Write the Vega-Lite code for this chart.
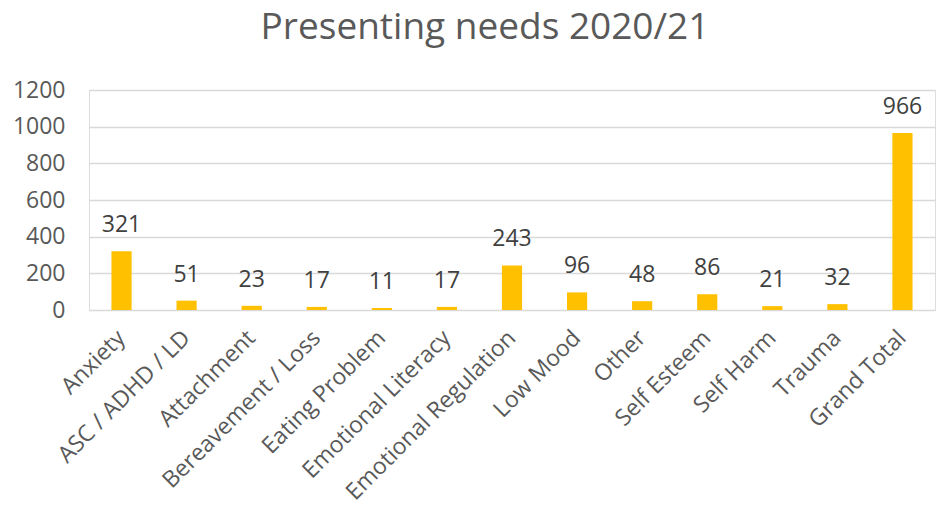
{
  "$schema": "https://vega.github.io/schema/vega-lite/v6.json",
  "autosize": "none",
  "width": 846,
  "height": 220,
  "padding": {"left": 89, "top": 90, "right": 2, "bottom": 198},
  "background": "white",
  "title": {
    "text": "Presenting needs 2020/21",
    "font": "Open Sans",
    "fontSize": 37,
    "fontWeight": "normal",
    "color": "#595959",
    "anchor": "middle",
    "dx": -27,
    "offset": 32
  },
  "data": {
    "values": [
      {"need": "Anxiety", "count": 321},
      {"need": "ASC / ADHD / LD", "count": 51},
      {"need": "Attachment", "count": 23},
      {"need": "Bereavement / Loss", "count": 17},
      {"need": "Eating Problem", "count": 11},
      {"need": "Emotional Literacy", "count": 17},
      {"need": "Emotional Regulation", "count": 243},
      {"need": "Low Mood", "count": 96},
      {"need": "Other", "count": 48},
      {"need": "Self Esteem", "count": 86},
      {"need": "Self Harm", "count": 21},
      {"need": "Trauma", "count": 32},
      {"need": "Grand Total", "count": 966}
    ]
  },
  "encoding": {
    "x": {
      "field": "need",
      "type": "nominal",
      "sort": null,
      "title": null,
      "scale": {"paddingInner": 0.69, "paddingOuter": 0.345},
      "axis": {
        "labelAngle": -45,
        "labelAlign": "right",
        "labelBaseline": "middle",
        "labelFont": "Open Sans",
        "labelFontSize": 23,
        "labelColor": "#595959",
        "labelPadding": 24,
        "ticks": false,
        "domain": false,
        "grid": false,
        "labelLimit": 400
      }
    },
    "y": {
      "field": "count",
      "type": "quantitative",
      "title": null,
      "scale": {"domain": [0, 1200]},
      "axis": {
        "values": [0, 200, 400, 600, 800, 1000, 1200],
        "format": "d",
        "labelFont": "Open Sans",
        "labelFontSize": 23,
        "labelColor": "#595959",
        "labelPadding": 24,
        "ticks": false,
        "domain": false,
        "gridColor": "#D9D9D9",
        "gridWidth": 1.5
      }
    }
  },
  "layer": [
    {"mark": {"type": "bar", "color": "#FFC000"}},
    {
      "mark": {
        "type": "text",
        "baseline": "bottom",
        "dy": -14,
        "font": "Open Sans",
        "fontSize": 23,
        "color": "#404040"
      },
      "encoding": {"text": {"field": "count", "type": "quantitative"}}
    }
  ]
}
